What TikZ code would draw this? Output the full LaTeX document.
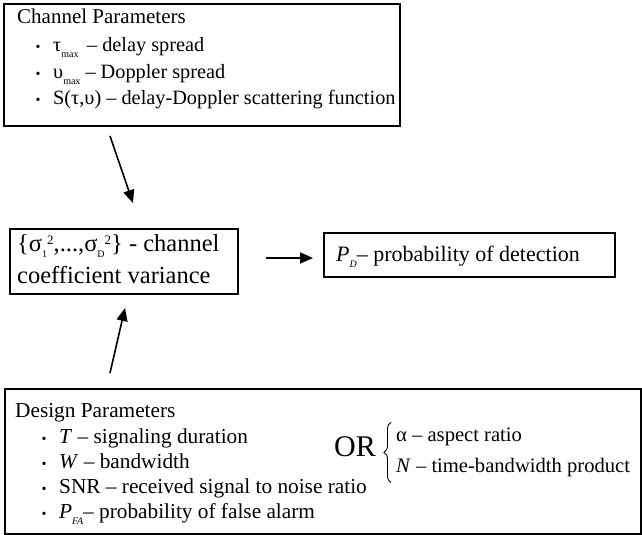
\documentclass[tikz,border=0pt]{standalone}
\usepackage{fontspec}
\setmainfont{Liberation Serif}
\usetikzlibrary{arrows.meta,decorations.pathreplacing}
\newcommand{\lowsub}[1]{\raisebox{-6pt}{\fontsize{10}{10}\selectfont #1}}
\newcommand{\lowisub}[1]{\raisebox{-6pt}{\fontsize{10}{10}\selectfont\itshape #1}}
\newcommand{\hisup}[1]{\raisebox{7pt}{\fontsize{13}{13}\selectfont #1}}
\begin{document}
\begin{tikzpicture}[x=1pt,y=-1pt,
  box/.style={draw, line width=1.6pt, inner sep=0pt},
  arr/.style={-{Triangle[length=13pt,width=11pt]}, line width=1.6pt},
  txt/.style={anchor=base west, inner sep=0pt, font=\fontsize{20.3}{25}\selectfont},
  dtxt/.style={anchor=base west, inner sep=0pt, font=\fontsize{21.3}{25}\selectfont},
  bul/.style={anchor=base, inner sep=0pt, font=\fontsize{14}{16}\selectfont},
  curly/.style={decorate, decoration={brace, amplitude=7pt}, line width=0.9pt},
]
\useasboundingbox (0,0) rectangle (642,535);
% boxes
\node[box, anchor=north west, minimum width=396pt, minimum height=122pt] (chan) at (3,3) {};
\node[box, anchor=north west, minimum width=228pt, minimum height=65pt] (var) at (9,228) {};
\node[box, anchor=north west, minimum width=291pt, minimum height=44pt] (pd) at (323,232) {};
\node[box, anchor=north west, minimum width=636pt, minimum height=145pt] (des) at (4,388) {};
% channel text
\node[txt, font=\fontsize{21}{25}\selectfont] (ch0) at (17,24) {Channel Parameters};
\node[bul] (cb1) at (38,52) {•};
\node[txt] (ch1) at (53,52) {τ\lowsub{max} \,– delay spread};
\node[bul] (cb2) at (38,78) {•};
\node[txt] (ch2) at (53,78) {υ\lowsub{max} – Doppler spread};
\node[bul] (cb3) at (38,104) {•};
\node[txt] (ch3) at (53,104) {S(τ,υ) – delay-Doppler scattering function};
% variance text
\node[txt, font=\fontsize{24.5}{28}\selectfont] (v1) at (17,251) {\{σ\lowsub{1}\hisup{2},...,σ\lowsub{D}\hisup{2}\} - channel};
\node[txt, font=\fontsize{24.5}{28}\selectfont] (v2) at (17,283) {coefficient variance};
% PD text
\node[txt, font=\fontsize{22}{26}\selectfont] (p1) at (336,261) {\textit{P}\lowisub{D}– probability of detection};
% design text
\node[dtxt] (d0) at (15,417) {Design Parameters};
\node[bul] (db1) at (44,443) {•};
\node[dtxt] (d1) at (59,443) {\textit{T} – signaling duration};
\node[bul] (db2) at (44,468) {•};
\node[dtxt] (d2) at (59,468) {\textit{W} – bandwidth};
\node[bul] (db3) at (44,493) {•};
\node[dtxt] (d3) at (59,493) {SNR – received signal to noise ratio};
\node[bul] (db4) at (44,518) {•};
\node[dtxt] (d4) at (59,518) {\textit{P}\lowisub{FA}– probability of false alarm};
\node[anchor=center, inner sep=0pt, font=\fontsize{30}{32}\selectfont] (or) at (355,447) {OR};
\node[anchor=base west, inner sep=0pt, font=\fontsize{20.6}{25}\selectfont] (alpha) at (396,441) {α – aspect ratio};
\node[anchor=base west, inner sep=0pt, font=\fontsize{20.6}{25}\selectfont] (nline) at (396,472) {\textit{N} – time-bandwidth product};
\coordinate (brtop) at ([xshift=-5pt,yshift=5pt]alpha.north west);
\coordinate (brbot) at ([xshift=-5pt,yshift=-6pt]nline.south west);
\draw[curly] (brbot) -- (brtop);
% arrows
\coordinate (a1s) at (110,136);
\coordinate (a1e) at (133,203);
\coordinate (a2s) at (110,373);
\coordinate (a2e) at (125,308);
\coordinate (a3s) at (266,258);
\coordinate (a3e) at (313,258);
\draw[arr] (a1s) -- (a1e);
\draw[arr] (a2s) -- (a2e);
\draw[arr] (a3s) -- (a3e);
\end{tikzpicture}
\end{document}
